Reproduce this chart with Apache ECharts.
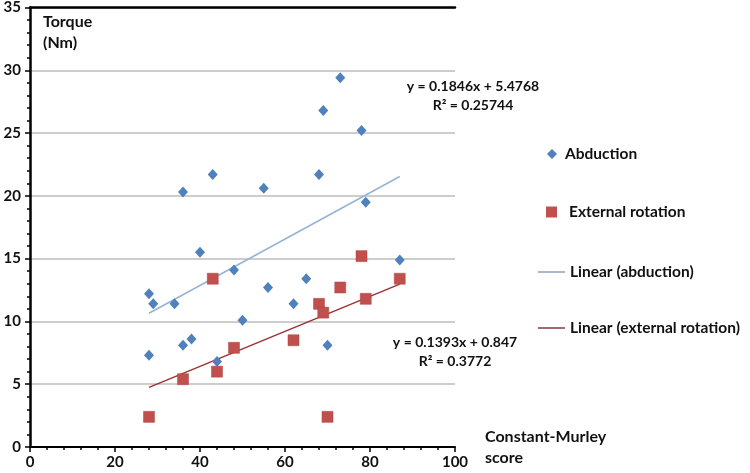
<!DOCTYPE html>
<html>
    <head>
        <meta charset="utf-8">
        <title>Torque vs Constant-Murley score</title>
        <script src="https://cdn.jsdelivr.net/npm/echarts@6/dist/echarts.min.js"></script>
        <style>
            body { margin: 0; background: #fff; }
        </style>
    </head>
    <body>
        <div id="main" style="width: 750px;height: 473px;"></div>

        <script>
            // points: [Constant-Murley score, torque]
            let abduction = [
                [28, 12.2], [29, 11.4], [34, 11.4], [40, 15.5], [48, 14.1],
                [28, 7.3], [36, 8.1], [38, 8.6], [44, 6.8], [50, 10.1],
                [36, 20.3], [43, 21.7], [55, 20.6], [68, 21.7], [73, 29.4],
                [69, 26.8], [78, 25.2], [79, 19.5], [56, 12.7], [65, 13.4],
                [62, 11.4], [70, 8.1], [87, 14.9]
            ];
            let externalRotation = [
                [28, 2.4], [36, 5.4], [43, 13.4], [44, 6.0], [48, 7.9],
                [62, 8.5], [68, 11.4], [69, 10.7], [70, 2.4], [73, 12.7],
                [78, 15.2], [79, 11.8], [87, 13.4]
            ];
            // trend line end points (y = 0.1846x + 5.4768 and y = 0.1393x + 0.847)
            let linearAbduction = [[28, 10.65], [87, 21.54]];
            let linearExternal = [[28, 4.75], [87, 12.97]];
            let yTicks = [0, 5, 10, 15, 20, 25, 30, 35];
            let xTicks = [0, 20, 40, 60, 80, 100];

            let font = 'Lato, "Open Sans", sans-serif';
            let blue = '#4f81bd', red = '#c0504d';
            let blueLine = '#95b3d7', redLine = '#9b3331';

            function legendAt(name, top, left, w, h, icon, color, gap) {
                return {
                    data: [{ name: name, icon: icon }],
                    left: left, top: top,
                    itemWidth: w, itemHeight: h,
                    itemGap: 0,
                    padding: 0,
                    selectedMode: false,
                    itemStyle: { color: color, borderWidth: 0 },
                    textStyle: { fontFamily: font, fontWeight: 'bold', fontSize: 15.5, color: '#111', padding: [0, 0, 0, gap] }
                };
            }

            function note(text, x, y) {
                return {
                    type: 'text', x: x, y: y,
                    style: { text: text, fontFamily: font, fontWeight: 'bold', fontSize: 14, fill: '#111', lineHeight: 19, align: 'center', verticalAlign: 'top' }
                };
            }

            var option = {
                animation: false,
                grid: { left: 30, top: 6, width: 425, height: 441, containLabel: false },
                legend: [
                    legendAt('Abduction', 146, 547, 10, 10, 'diamond', blue, 3),
                    legendAt('External rotation', 204, 546, 11, 11, 'rect', red, 7),
                    legendAt('Linear (abduction)', 264, 538, 27, 2, 'rect', '#a9b9cf', 0),
                    legendAt('Linear (external rotation)', 320, 538, 27, 2, 'rect', '#a06a76', 0)
                ],
                xAxis: [{
                    type: 'value',
                    min: xTicks[0], max: xTicks[xTicks.length - 1], interval: 20,
                    axisLine: { lineStyle: { color: '#000', width: 2 } },
                    axisTick: { show: true, length: 5, lineStyle: { color: '#000', width: 1.5 } },
                    minorTick: { show: true, splitNumber: 5, length: 3, lineStyle: { color: '#000', width: 1.5 } },
                    axisLabel: { margin: 8, fontFamily: font, fontWeight: 'bold', fontSize: 15, color: '#111' },
                    splitLine: { show: false }
                }, {
                    type: 'value', position: 'top',
                    min: 0, max: 100,
                    axisLine: { show: true, lineStyle: { color: '#000', width: 2.5 } },
                    axisTick: { show: false }, axisLabel: { show: false }, splitLine: { show: false }
                }],
                yAxis: {
                    type: 'value',
                    min: yTicks[0], max: yTicks[yTicks.length - 1], interval: 5,
                    axisLine: { show: true, lineStyle: { color: '#000', width: 2.5 } },
                    axisTick: { show: true, length: 5, lineStyle: { color: '#000', width: 1.5 } },
                    minorTick: { show: true, splitNumber: 5, length: 3, lineStyle: { color: '#000', width: 1.5 } },
                    axisLabel: { margin: 9, fontFamily: font, fontWeight: 'bold', fontSize: 15, color: '#111' },
                    splitLine: { show: true, lineStyle: { color: '#bdbdbd', width: 1.5 } }
                },
                series: [
                    {
                        name: 'Abduction', type: 'scatter', data: abduction,
                        symbol: 'diamond', symbolSize: [10, 11],
                        itemStyle: { color: blue, opacity: 1 }
                    },
                    {
                        name: 'External rotation', type: 'scatter', data: externalRotation,
                        symbol: 'rect', symbolSize: 11,
                        itemStyle: { color: red, borderColor: '#b04340', borderWidth: 0.5, opacity: 1 }
                    },
                    {
                        name: 'Linear (abduction)', type: 'line', data: linearAbduction,
                        symbol: 'none', z: 1,
                        lineStyle: { color: blueLine, width: 1.5 }
                    },
                    {
                        name: 'Linear (external rotation)', type: 'line', data: linearExternal,
                        symbol: 'none', z: 1,
                        lineStyle: { color: redLine, width: 1.5 }
                    }
                ],
                graphic: [
                    { type: 'text', left: 43, top: 11, style: { text: 'Torque\n(Nm)', fontFamily: font, fontWeight: 'bold', fontSize: 16, lineHeight: 21, fill: '#111' } },
                    note('y = 0.1846x + 5.4768\nR² = 0.25744', 473, 77),
                    note('y = 0.1393x + 0.847\nR² = 0.3772', 455, 333),
                    { type: 'text', left: 485, top: 426, style: { text: 'Constant-Murley\nscore', fontFamily: font, fontWeight: 'bold', fontSize: 16, lineHeight: 21, fill: '#111' } }
                ]
            };

            let chart = echarts.init(document.getElementById('main'));
            chart.setOption(option);
        </script>
    </body>
</html>
